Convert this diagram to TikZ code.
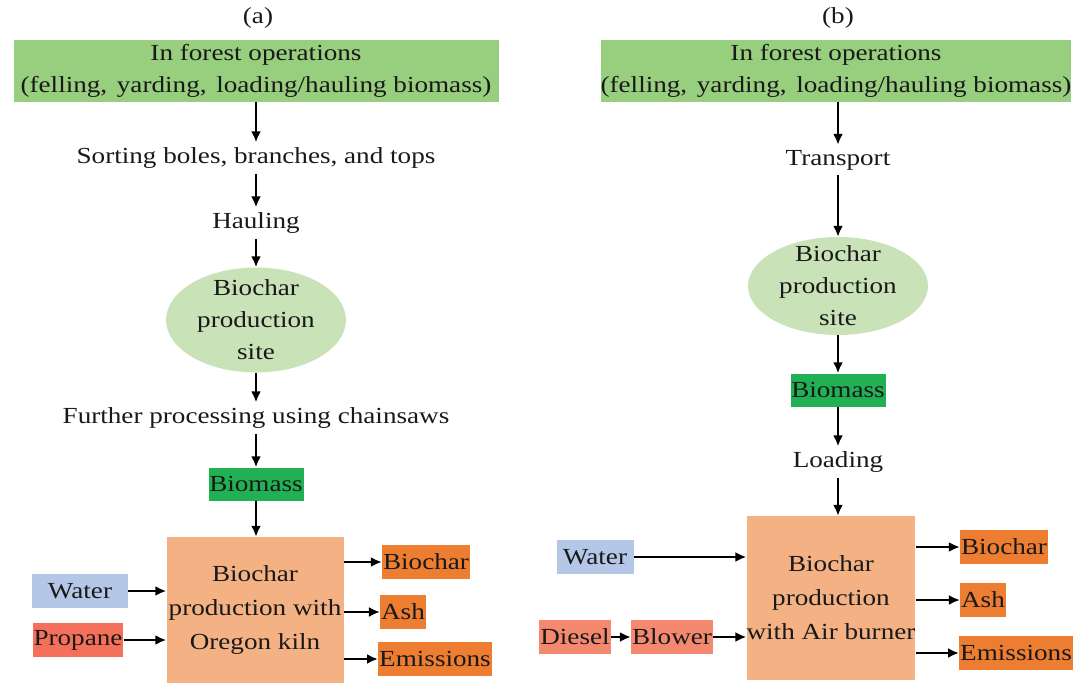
\documentclass[tikz,border=0pt]{standalone}
\usepackage{fontspec}
\setmainfont{Liberation Serif}[FakeStretch=1.18]
\usetikzlibrary{arrows.meta,shapes.geometric}
\definecolor{forestgreen}{HTML}{97CF7E}
\definecolor{sitegreen}{HTML}{C9E2B8}
\definecolor{biomassgreen}{HTML}{22B055}
\definecolor{kilnorange}{HTML}{F4B183}
\definecolor{outorange}{HTML}{ED7D31}
\definecolor{waterblue}{HTML}{B4C7E7}
\definecolor{propanered}{HTML}{F4705A}
\definecolor{dieselred}{HTML}{F4896F}
\newcommand\wide{\hspace{0.42em}}

\begin{document}
\begin{tikzpicture}[
  x=1pt,
  y=-1pt,
  every node/.style={font=\fontsize{23}{32}\selectfont,text=black!90},
  plain/.style={inner sep=5pt},
  forestbox/.style={fill=forestgreen,minimum height=62pt,align=center,inner sep=0pt},
  site/.style={ellipse,fill=sitegreen,minimum width=180pt,align=center,inner xsep=0pt},
  biomass/.style={fill=biomassgreen,minimum width=95pt,minimum height=33pt,inner sep=0pt},
  kiln/.style={fill=kilnorange,align=center,inner sep=0pt,font=\fontsize{23}{34}\selectfont},
  tag/.style={minimum height=34pt,inner xsep=1pt,inner ysep=0pt},
  flow/.style={draw=black,line width=2.6pt,-{Latex[length=11pt,width=10pt]}}
]
  \useasboundingbox (0,0) rectangle (1074,683);

  % (a) chain with the Oregon kiln
  \node (tagA) at (258,18) {(a)};
  \node[forestbox,minimum width=485pt] (forestA) at (256,71)
    {In forest operations\\(felling,\wide yarding,\wide loading/hauling biomass)};
  \node[plain] (sortA) at (256,158) {Sorting boles, branches, and tops};
  \node[plain] (haulA) at (256,223) {Hauling};
  \node[site,minimum height=105pt,inner ysep=-6pt] (siteA) at (256,320) {Biochar\\production\\site};
  \node[plain] (chainA) at (256,418) {Further processing using chainsaws};
  \node[biomass] (biomassA) at (256,484) {Biomass};
  \node[kiln,minimum width=177pt,minimum height=146pt] (kilnA) at (255,610)
    {Biochar\\production with\\Oregon kiln};

  \node[tag,fill=waterblue,minimum width=96pt] (waterA) at (80,591) {Water};
  \node[tag,fill=propanered,minimum width=90pt] (propaneA) at (78,640) {Propane};
  \node[tag,fill=outorange] (biocharA) at (426,562) {Biochar};
  \node[tag,fill=outorange] (ashA) at (403,612) {Ash};
  \node[tag,fill=outorange] (emisA) at (435,659) {Emissions};

  % (b) chain with the air burner
  \node (tagB) at (838,18) {(b)};
  \node[forestbox,minimum width=470pt] (forestB) at (836,71)
    {In forest operations\\(felling,\wide yarding,\wide loading/hauling biomass)};
  \node[plain] (transB) at (838,160) {Transport};
  \node[site,minimum height=98pt,inner ysep=-8pt] (siteB) at (838,286) {Biochar\\production\\site};
  \node[biomass] (biomassB) at (838,390) {Biomass};
  \node[plain] (loadB) at (838,462) {Loading};
  \node[kiln,minimum width=162pt,minimum height=164pt] (kilnB) at (831,598)
    {Biochar\\production\\with Air burner};

  \node[tag,fill=waterblue,minimum width=77pt] (waterB) at (595,557) {Water};
  \node[tag,fill=dieselred,minimum width=69pt] (dieselB) at (575,637) {Diesel};
  \node[tag,fill=dieselred,minimum width=77pt] (blowerB) at (672,637) {Blower};
  \node[tag,fill=outorange] (biocharB) at (1004,547) {Biochar};
  \node[tag,fill=outorange] (ashB) at (983,600) {Ash};
  \node[tag,fill=outorange] (emisB) at (1016,653) {Emissions};

  % vertical flow
  \draw[flow] (forestA) -- (sortA);
  \draw[flow] (sortA) -- (haulA);
  \draw[flow] (haulA) -- (siteA);
  \draw[flow] (siteA) -- (chainA);
  \draw[flow] (chainA) -- (biomassA);
  \draw[flow] (biomassA) -- (biomassA |- kilnA.north);

  \draw[flow] (forestB.south -| transB) -- (transB);
  \draw[flow] (transB) -- (siteB);
  \draw[flow] (siteB) -- (biomassB);
  \draw[flow] (biomassB) -- (loadB);
  \draw[flow] (loadB) -- (loadB |- kilnB.north);

  % inputs and outputs of the kilns
  \foreach \n in {waterA,propaneA} {
    \draw[flow] (\n.east) -- (\n.east -| kilnA.west);
  }
  \foreach \n in {biocharA,ashA,emisA} {
    \draw[flow] (\n.west -| kilnA.east) -- (\n.west);
  }
  \draw[flow] (waterB.east) -- (waterB.east -| kilnB.west);
  \draw[flow] (dieselB) -- (blowerB);
  \draw[flow] (blowerB.east) -- (blowerB.east -| kilnB.west);
  \foreach \n in {biocharB,ashB,emisB} {
    \draw[flow] (\n.west -| kilnB.east) -- (\n.west);
  }
\end{tikzpicture}
\end{document}
